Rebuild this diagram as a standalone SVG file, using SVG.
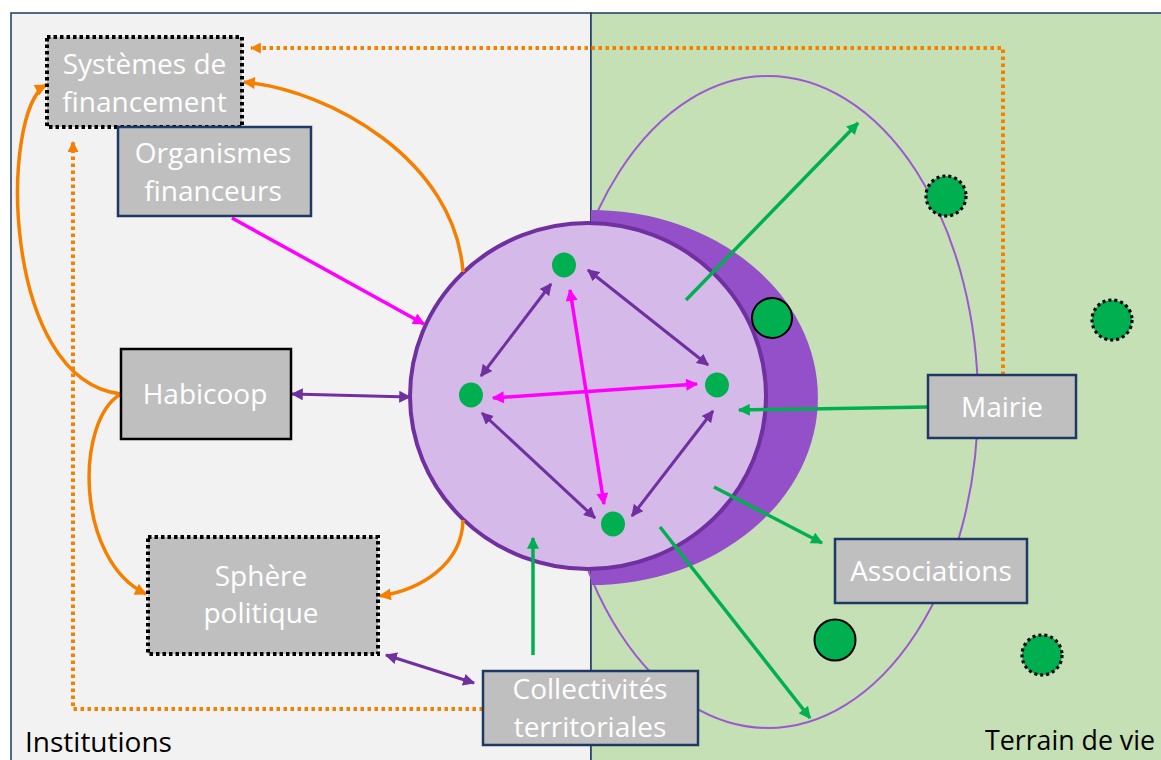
<svg xmlns="http://www.w3.org/2000/svg" width="1161" height="760" viewBox="0 0 1161 760">
  <style>
    .lbl { font-family: "Open Sans", "Noto Sans", "Liberation Sans", sans-serif; font-size: 28px; fill: #ffffff; text-anchor: middle; }
    .zone { font-family: "Open Sans", "Noto Sans", "Liberation Sans", sans-serif; font-size: 28px; fill: #000000; }
    .box { fill: #bfbfbf; stroke: #1f3864; stroke-width: 2.5; }
    .box-solid { fill: #bfbfbf; stroke: #000000; stroke-width: 2.5; }
    .box-dot { fill: #bfbfbf; stroke: #000000; stroke-width: 4; stroke-dasharray: 3.5 3; }
    .dot { fill: #00b050; }
    .actor { fill: #00b050; stroke: #000000; stroke-width: 2; }
    .actor-dot { fill: #00b050; stroke: #000000; stroke-width: 3.2; stroke-dasharray: 3 3; }
    .c-purple { fill: none; stroke: #7030a0; stroke-width: 3; marker-start: url(#hp); marker-end: url(#hp); }
    .c-magenta { fill: none; stroke: #ff00ff; stroke-width: 3.5; marker-end: url(#hm); }
    .c-magenta2 { fill: none; stroke: #ff00ff; stroke-width: 3.5; marker-start: url(#hm); marker-end: url(#hm); }
    .c-green { fill: none; stroke: #00b050; stroke-width: 3.5; marker-end: url(#hg); }
    .c-orange { fill: none; stroke: #f58000; stroke-width: 3.5; marker-end: url(#ho); }
    .c-orange-dot { fill: none; stroke: #f58000; stroke-width: 4; stroke-dasharray: 3.5 3.5; marker-end: url(#hod); }
  </style>
  <defs>
    <marker id="hp" viewBox="0 0 10 10" refX="9" refY="5" markerWidth="12" markerHeight="12" markerUnits="userSpaceOnUse" orient="auto-start-reverse">
      <path d="M0,0 L10,5 L0,10 z" fill="#7030a0"/>
    </marker>
    <marker id="hm" viewBox="0 0 10 10" refX="9" refY="5" markerWidth="13" markerHeight="12" markerUnits="userSpaceOnUse" orient="auto-start-reverse">
      <path d="M0,0 L10,5 L0,10 z" fill="#ff00ff"/>
    </marker>
    <marker id="hg" viewBox="0 0 10 10" refX="9" refY="5" markerWidth="13" markerHeight="12" markerUnits="userSpaceOnUse" orient="auto-start-reverse">
      <path d="M0,0 L10,5 L0,10 z" fill="#00b050"/>
    </marker>
    <marker id="ho" viewBox="0 0 10 10" refX="9" refY="5" markerWidth="13" markerHeight="12" markerUnits="userSpaceOnUse" orient="auto-start-reverse">
      <path d="M0,0 L10,5 L0,10 z" fill="#f58000"/>
    </marker>
    <marker id="hod" viewBox="0 0 10 10" refX="9" refY="5" markerWidth="11" markerHeight="11" markerUnits="userSpaceOnUse" orient="auto-start-reverse">
      <path d="M0,0 L10,5 L0,10 z" fill="#f58000"/>
    </marker>
  </defs>

  <!-- background zones -->
  <g id="zones">
    <rect x="11" y="13" width="580" height="760" fill="#f2f2f2" stroke="#1f3864" stroke-width="1.5"/>
    <rect x="591" y="13" width="590" height="760" fill="#c5e0b4" stroke="#1f3864" stroke-width="1.5"/>
    <text class="zone" x="25" y="752">Institutions</text>
    <text class="zone" x="1155" y="750" text-anchor="end" textLength="170" lengthAdjust="spacingAndGlyphs">Terrain de vie</text>
  </g>

  <!-- living area perimeter -->
  <ellipse id="perimetre" cx="768" cy="402" rx="210" ry="326" fill="none" stroke="#9b59d0" stroke-width="2"/>

  <!-- cooperative group: outer crescent and core circle -->
  <g id="groupe">
    <path d="M591,210 A227,187.5 0 0 1 591,585 Z" fill="#9350c8"/>
    <ellipse cx="588" cy="396" rx="178" ry="173" fill="#d5b9e9" stroke="#7030a0" stroke-width="4"/>
  </g>

  <!-- outside actors -->
  <g id="acteurs">
    <circle class="actor" cx="772" cy="318" r="20"/>
    <circle class="actor" cx="835" cy="640" r="20.5"/>
    <circle class="actor-dot" cx="946" cy="196" r="20"/>
    <circle class="actor-dot" cx="1112" cy="320" r="20"/>
    <circle class="actor-dot" cx="1042" cy="655" r="20"/>
  </g>

  <!-- members inside the group -->
  <g id="membres">
    <ellipse class="dot" cx="564" cy="265" rx="12" ry="12.5"/>
    <ellipse class="dot" cx="471" cy="395" rx="12" ry="12.5"/>
    <ellipse class="dot" cx="717" cy="385" rx="12" ry="12.5"/>
    <ellipse class="dot" cx="613" cy="524" rx="12" ry="12.5"/>
  </g>

  <!-- connectors -->
  <g id="connecteurs">
    <!-- between members -->
    <line class="c-purple" x1="551" y1="284" x2="481" y2="376"/>
    <line class="c-purple" x1="588" y1="270" x2="708" y2="365"/>
    <line class="c-purple" x1="482" y1="413" x2="595" y2="518"/>
    <line class="c-purple" x1="632" y1="516" x2="713" y2="411"/>
    <line class="c-magenta2" x1="570" y1="290" x2="604" y2="504"/>
    <line class="c-magenta2" x1="493" y1="398" x2="697" y2="384"/>

    <!-- institutions side -->
    <line class="c-magenta" x1="232" y1="218" x2="424" y2="324"/>
    <line class="c-purple" x1="292" y1="394" x2="410" y2="397"/>
    <line class="c-purple" x1="386" y1="655" x2="474" y2="683"/>
    <path class="c-orange" d="M463,272 C455,160 330,90 244,82"/>
    <path class="c-orange" d="M463,520 C462,565 420,590 380,596"/>
    <path class="c-orange" d="M121,394 C0,380 0,110 46,85"/>
    <path class="c-orange" d="M121,394 C75,420 75,560 146,594"/>
    <path class="c-orange-dot" d="M1003,375 V48 H251"/>
    <path class="c-orange-dot" d="M483,709 H73 V142"/>

    <!-- living area side -->
    <line class="c-green" x1="686" y1="300" x2="858" y2="123"/>
    <line class="c-green" x1="928" y1="407" x2="739" y2="410"/>
    <line class="c-green" x1="714" y1="487" x2="822" y2="543"/>
    <line class="c-green" x1="660" y1="527" x2="810" y2="718"/>
    <line class="c-green" x1="533" y1="655" x2="533" y2="538"/>
  </g>

  <!-- boxes -->
  <g id="systemes-financement">
    <rect class="box-dot" x="47" y="37" width="195" height="90"/>
    <text class="lbl" x="144.5" y="74">Systèmes de</text>
    <text class="lbl" x="144.5" y="112">financement</text>
  </g>
  <g id="organismes-financeurs">
    <rect class="box" x="118" y="127" width="193" height="89"/>
    <text class="lbl" x="213" y="163">Organismes</text>
    <text class="lbl" x="213" y="201">financeurs</text>
  </g>
  <g id="habicoop">
    <rect class="box-solid" x="121" y="349" width="170" height="90"/>
    <text class="lbl" x="205" y="404">Habicoop</text>
  </g>
  <g id="sphere-politique">
    <rect class="box-dot" x="148" y="537" width="230" height="117"/>
    <text class="lbl" x="261" y="586">Sphère</text>
    <text class="lbl" x="261" y="623">politique</text>
  </g>
  <g id="collectivites">
    <rect class="box" x="483" y="671" width="215" height="74"/>
    <text class="lbl" x="590" y="699">Collectivités</text>
    <text class="lbl" x="590" y="737">territoriales</text>
  </g>
  <g id="mairie">
    <rect class="box" x="928" y="375" width="148" height="63"/>
    <text class="lbl" x="1002" y="417">Mairie</text>
  </g>
  <g id="associations">
    <rect class="box" x="835" y="539" width="192" height="64"/>
    <text class="lbl" x="931" y="581">Associations</text>
  </g>
</svg>
